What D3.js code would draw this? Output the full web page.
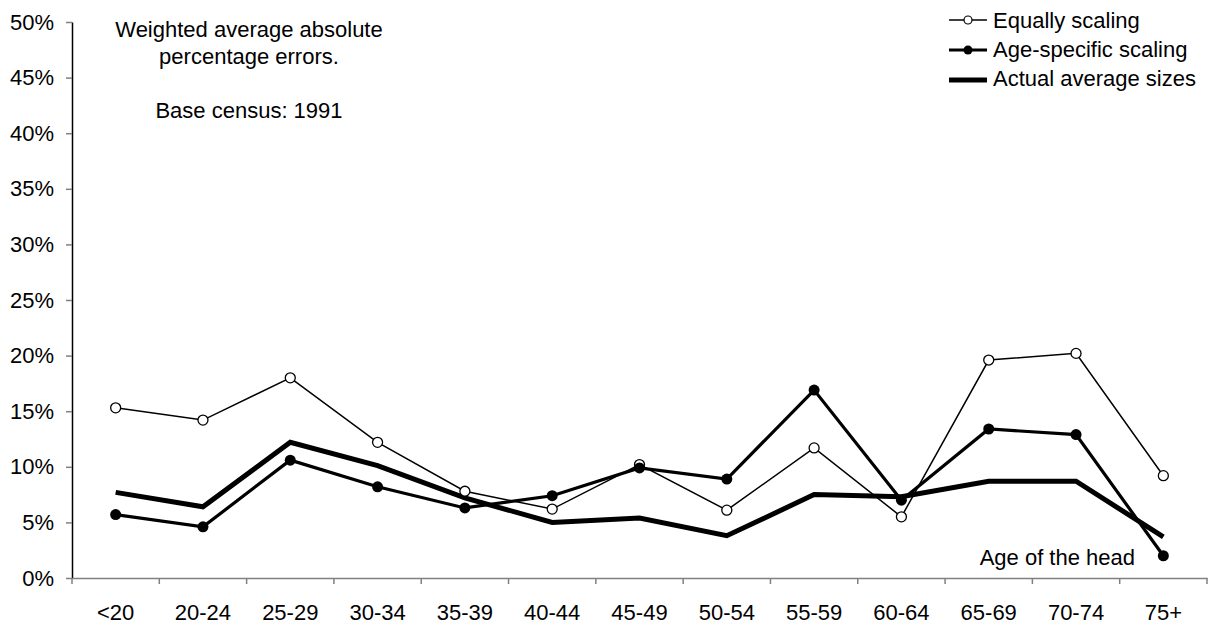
<!DOCTYPE html>
<html>
<head>
<meta charset="utf-8">
<script src="https://cdn.jsdelivr.net/npm/d3@7"></script>
<style>
  body { margin: 0; background: #fff; }
  svg { display: block; font-family: "Liberation Sans", Arial, sans-serif; }
</style>
</head>
<body>
<svg class="chart"></svg>
<script>
// Age group of the household head
const categories = ['<20', '20-24', '25-29', '30-34', '35-39', '40-44', '45-49',
  '50-54', '55-59', '60-64', '65-69', '70-74', '75+'];

// Weighted average absolute percentage errors (%)
const equallyScaling = [15.3, 14.2, 18.0, 12.2, 7.8, 6.2, 10.2, 6.1, 11.7, 5.5, 19.6, 20.2, 9.2];
const ageSpecificScaling = [5.7, 4.6, 10.6, 8.2, 6.3, 7.4, 9.9, 8.9, 16.9, 7.0, 13.4, 12.9, 2.0];
const actualAverageSizes = [7.7, 6.4, 12.2, 10.1, 7.2, 5.0, 5.4, 3.8, 7.5, 7.3, 8.7, 8.7, 3.7];

const yTicks = [0, 5, 10, 15, 20, 25, 30, 35, 40, 45, 50];

const seriesNames = ['Equally scaling', 'Age-specific scaling', 'Actual average sizes'];

// Set up SVG
const svgWidth = 1212;
const svgHeight = 626;
const fontSize = '22px';

const svg = d3.select('.chart')
  .attr('width', svgWidth)
  .attr('height', svgHeight);

// Scales
const xScale = d3.scaleBand()
  .domain(categories)
  .range([72, 1207])
  .padding(0);

const yScale = d3.scaleLinear()
  .domain([0, 50])
  .range([578, 22]);

const xMid = d => xScale(d) + xScale.bandwidth() / 2;

// Y axis
const yAxisGroup = svg.append('g')
  .attr('transform', 'translate(72,0)')
  .call(d3.axisLeft(yScale).tickValues(yTicks).tickFormat(d => d + '%')
    .tickSize(6).tickPadding(12).tickSizeOuter(0));

yAxisGroup.select('.domain').attr('stroke', '#000').attr('stroke-width', 1.5);
yAxisGroup.selectAll('.tick line').attr('stroke', '#808080').attr('stroke-width', 1.5);
yAxisGroup.selectAll('.tick text')
  .attr('font-size', fontSize).attr('font-family', 'Liberation Sans, Arial, sans-serif')
  .attr('fill', '#000');

// X axis (labels in the middle of each band, ticks on band edges)
const xAxisGroup = svg.append('g')
  .attr('transform', 'translate(0,578)')
  .call(d3.axisBottom(xScale).tickSize(0).tickSizeOuter(0).tickPadding(0));

xAxisGroup.select('.domain').attr('stroke', '#808080').attr('stroke-width', 1.5);
xAxisGroup.selectAll('.tick text')
  .attr('y', 42).attr('dy', 0)
  .attr('font-size', fontSize).attr('font-family', 'Liberation Sans, Arial, sans-serif')
  .attr('fill', '#000');

const edges = categories.map(c => xScale(c)).concat([xScale.range()[1]]);
xAxisGroup.selectAll('.edge-tick')
  .data(edges)
  .enter()
  .append('line')
  .attr('class', 'edge-tick')
  .attr('x1', d => d).attr('x2', d => d)
  .attr('y1', 0).attr('y2', 6)
  .attr('stroke', '#808080')
  .attr('stroke-width', 1.5);

// Lines
const line = d3.line()
  .x((d, i) => xMid(categories[i]))
  .y(d => yScale(d));

svg.append('path')
  .datum(equallyScaling)
  .attr('d', line)
  .attr('fill', 'none')
  .attr('stroke', '#000')
  .attr('stroke-width', 1.5);

svg.append('path')
  .datum(ageSpecificScaling)
  .attr('d', line)
  .attr('fill', 'none')
  .attr('stroke', '#000')
  .attr('stroke-width', 3.2);

svg.append('path')
  .datum(actualAverageSizes)
  .attr('d', line)
  .attr('fill', 'none')
  .attr('stroke', '#000')
  .attr('stroke-width', 5);

// Markers
svg.selectAll('.eq-dot')
  .data(equallyScaling)
  .enter()
  .append('circle')
  .attr('class', 'eq-dot')
  .attr('cx', (d, i) => xMid(categories[i]))
  .attr('cy', d => yScale(d))
  .attr('r', 5)
  .attr('fill', '#fff')
  .attr('stroke', '#000')
  .attr('stroke-width', 1.3);

svg.selectAll('.age-dot')
  .data(ageSpecificScaling)
  .enter()
  .append('circle')
  .attr('class', 'age-dot')
  .attr('cx', (d, i) => xMid(categories[i]))
  .attr('cy', d => yScale(d))
  .attr('r', 5.5)
  .attr('fill', '#000');

// Annotation text
const note = svg.append('text')
  .attr('text-anchor', 'middle')
  .attr('font-size', fontSize)
  .attr('fill', '#000');
note.append('tspan').attr('x', 249).attr('y', 37).text('Weighted average absolute');
note.append('tspan').attr('x', 249).attr('y', 64).text('percentage errors.');
note.append('tspan').attr('x', 249).attr('y', 118).text('Base census: 1991');

svg.append('text')
  .attr('x', 1135)
  .attr('y', 565)
  .attr('text-anchor', 'end')
  .attr('font-size', fontSize)
  .attr('fill', '#000')
  .text('Age of the head');

// Legend
const legend = svg.append('g');
const legendWidths = [1.5, 3.2, 5];
seriesNames.forEach((name, i) => {
  const baseY = 27.5 + i * 29.3;
  const ly = 20 + i * 30;
  legend.append('line')
    .attr('x1', 949).attr('x2', 987)
    .attr('y1', ly).attr('y2', ly)
    .attr('stroke', '#000')
    .attr('stroke-width', legendWidths[i]);
  if (i === 0) {
    legend.append('circle')
      .attr('cx', 968).attr('cy', ly).attr('r', 4)
      .attr('fill', '#fff').attr('stroke', '#000').attr('stroke-width', 1.2);
  } else if (i === 1) {
    legend.append('circle')
      .attr('cx', 968).attr('cy', ly).attr('r', 4.5)
      .attr('fill', '#000');
  }
  legend.append('text')
    .attr('x', 993)
    .attr('y', baseY)
    .attr('font-size', fontSize)
    .attr('fill', '#000')
    .text(name);
});
</script>
</body>
</html>
